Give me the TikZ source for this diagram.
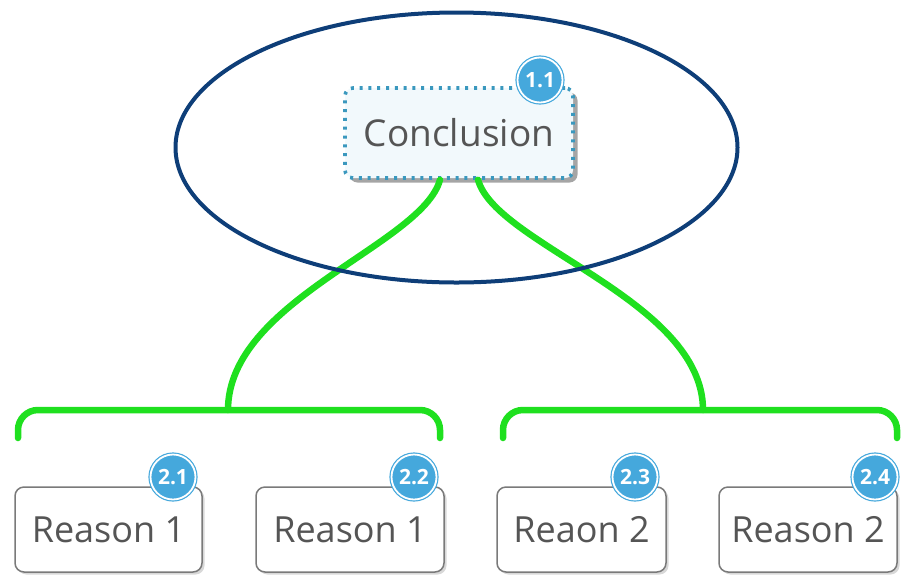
\documentclass[tikz,border=0pt]{standalone}
\usepackage{fontspec}
\setmainfont{Open Sans}
\usetikzlibrary{shadows}
\definecolor{linkgreen}{HTML}{1FE01F}
\definecolor{ringblue}{HTML}{0E3E78}
\definecolor{badgeblue}{HTML}{45A8DC}
\definecolor{dotblue}{HTML}{3A98BE}
\definecolor{paleblue}{HTML}{F2F9FC}
\definecolor{textgray}{HTML}{555555}
\definecolor{edgegray}{HTML}{7A7A7A}
\tikzset{
  mainbox/.style={draw=dotblue, line width=3.6pt, dash pattern=on 3pt off 5.8pt,
    fill=paleblue, rounded corners=8pt, minimum width=228pt, minimum height=90pt,
    text=textgray, font=\fontsize{37}{40}\selectfont,
    drop shadow={shadow xshift=4.5pt, shadow yshift=-4.5pt, fill=black!70}},
  reasonbox/.style={draw=edgegray, line width=1.5pt, fill=white, rounded corners=9pt,
    minimum height=85pt, text=textgray, font=\fontsize{36}{38}\selectfont,
    drop shadow={shadow xshift=2.5pt, shadow yshift=-2.5pt, fill=black!30}},
  badge/.style={circle, fill=badgeblue, draw=badgeblue, double=white, double distance=1.8pt,
    line width=1.2pt, minimum size=45pt, inner sep=0pt, text=white,
    font=\bfseries\fontsize{21}{21}\selectfont},
  link/.style={draw=linkgreen, line width=6.5pt, line cap=round},
  brace/.style={draw=linkgreen, line width=6.5pt, line cap=round, rounded corners=20pt},
  highlight/.style={draw=ringblue, line width=4pt}
}
\begin{document}
\begin{tikzpicture}[x=1pt, y=-1pt]
  \useasboundingbox (0,0) rectangle (902,574);

  % brackets above each pair of reasons
  \draw[brace] (18,438) |- (440,410) -- (440,438);
  \draw[brace] (503,438) |- (897,410) -- (897,438);
  \coordinate (joinL) at (228,410);
  \coordinate (joinR) at (703,410);

  % conclusion
  \node[mainbox] (concl) at (459,133) {Conclusion};

  % links from the conclusion to the brackets
  \draw[link] ([xshift=-19pt]concl.south) .. controls (422,245) and (228,300) .. (joinL);
  \draw[link] ([xshift=19pt]concl.south) .. controls (496,245) and (703,300) .. (joinR);

  % reasons
  \node[reasonbox, minimum width=187pt] (r1) at (108.5,529.5) {Reason 1};
  \node[reasonbox, minimum width=188pt] (r2) at (350,529.5) {Reason 1};
  \node[reasonbox, minimum width=169pt] (r3) at (581.5,529.5) {Reaon 2};
  \node[reasonbox, minimum width=178pt] (r4) at (808,529.5) {Reason 2};

  % numbering badges
  \node[badge] (b11) at (540,80) {1.1};
  \node[badge] (b21) at (173,477) {2.1};
  \node[badge] (b22) at (414,477) {2.2};
  \node[badge] (b23) at (635,477) {2.3};
  \node[badge] (b24) at (875,477) {2.4};

  % highlight ring around the conclusion
  \draw[highlight] (456.5,147.5) ellipse [x radius=281, y radius=135];
\end{tikzpicture}
\end{document}
